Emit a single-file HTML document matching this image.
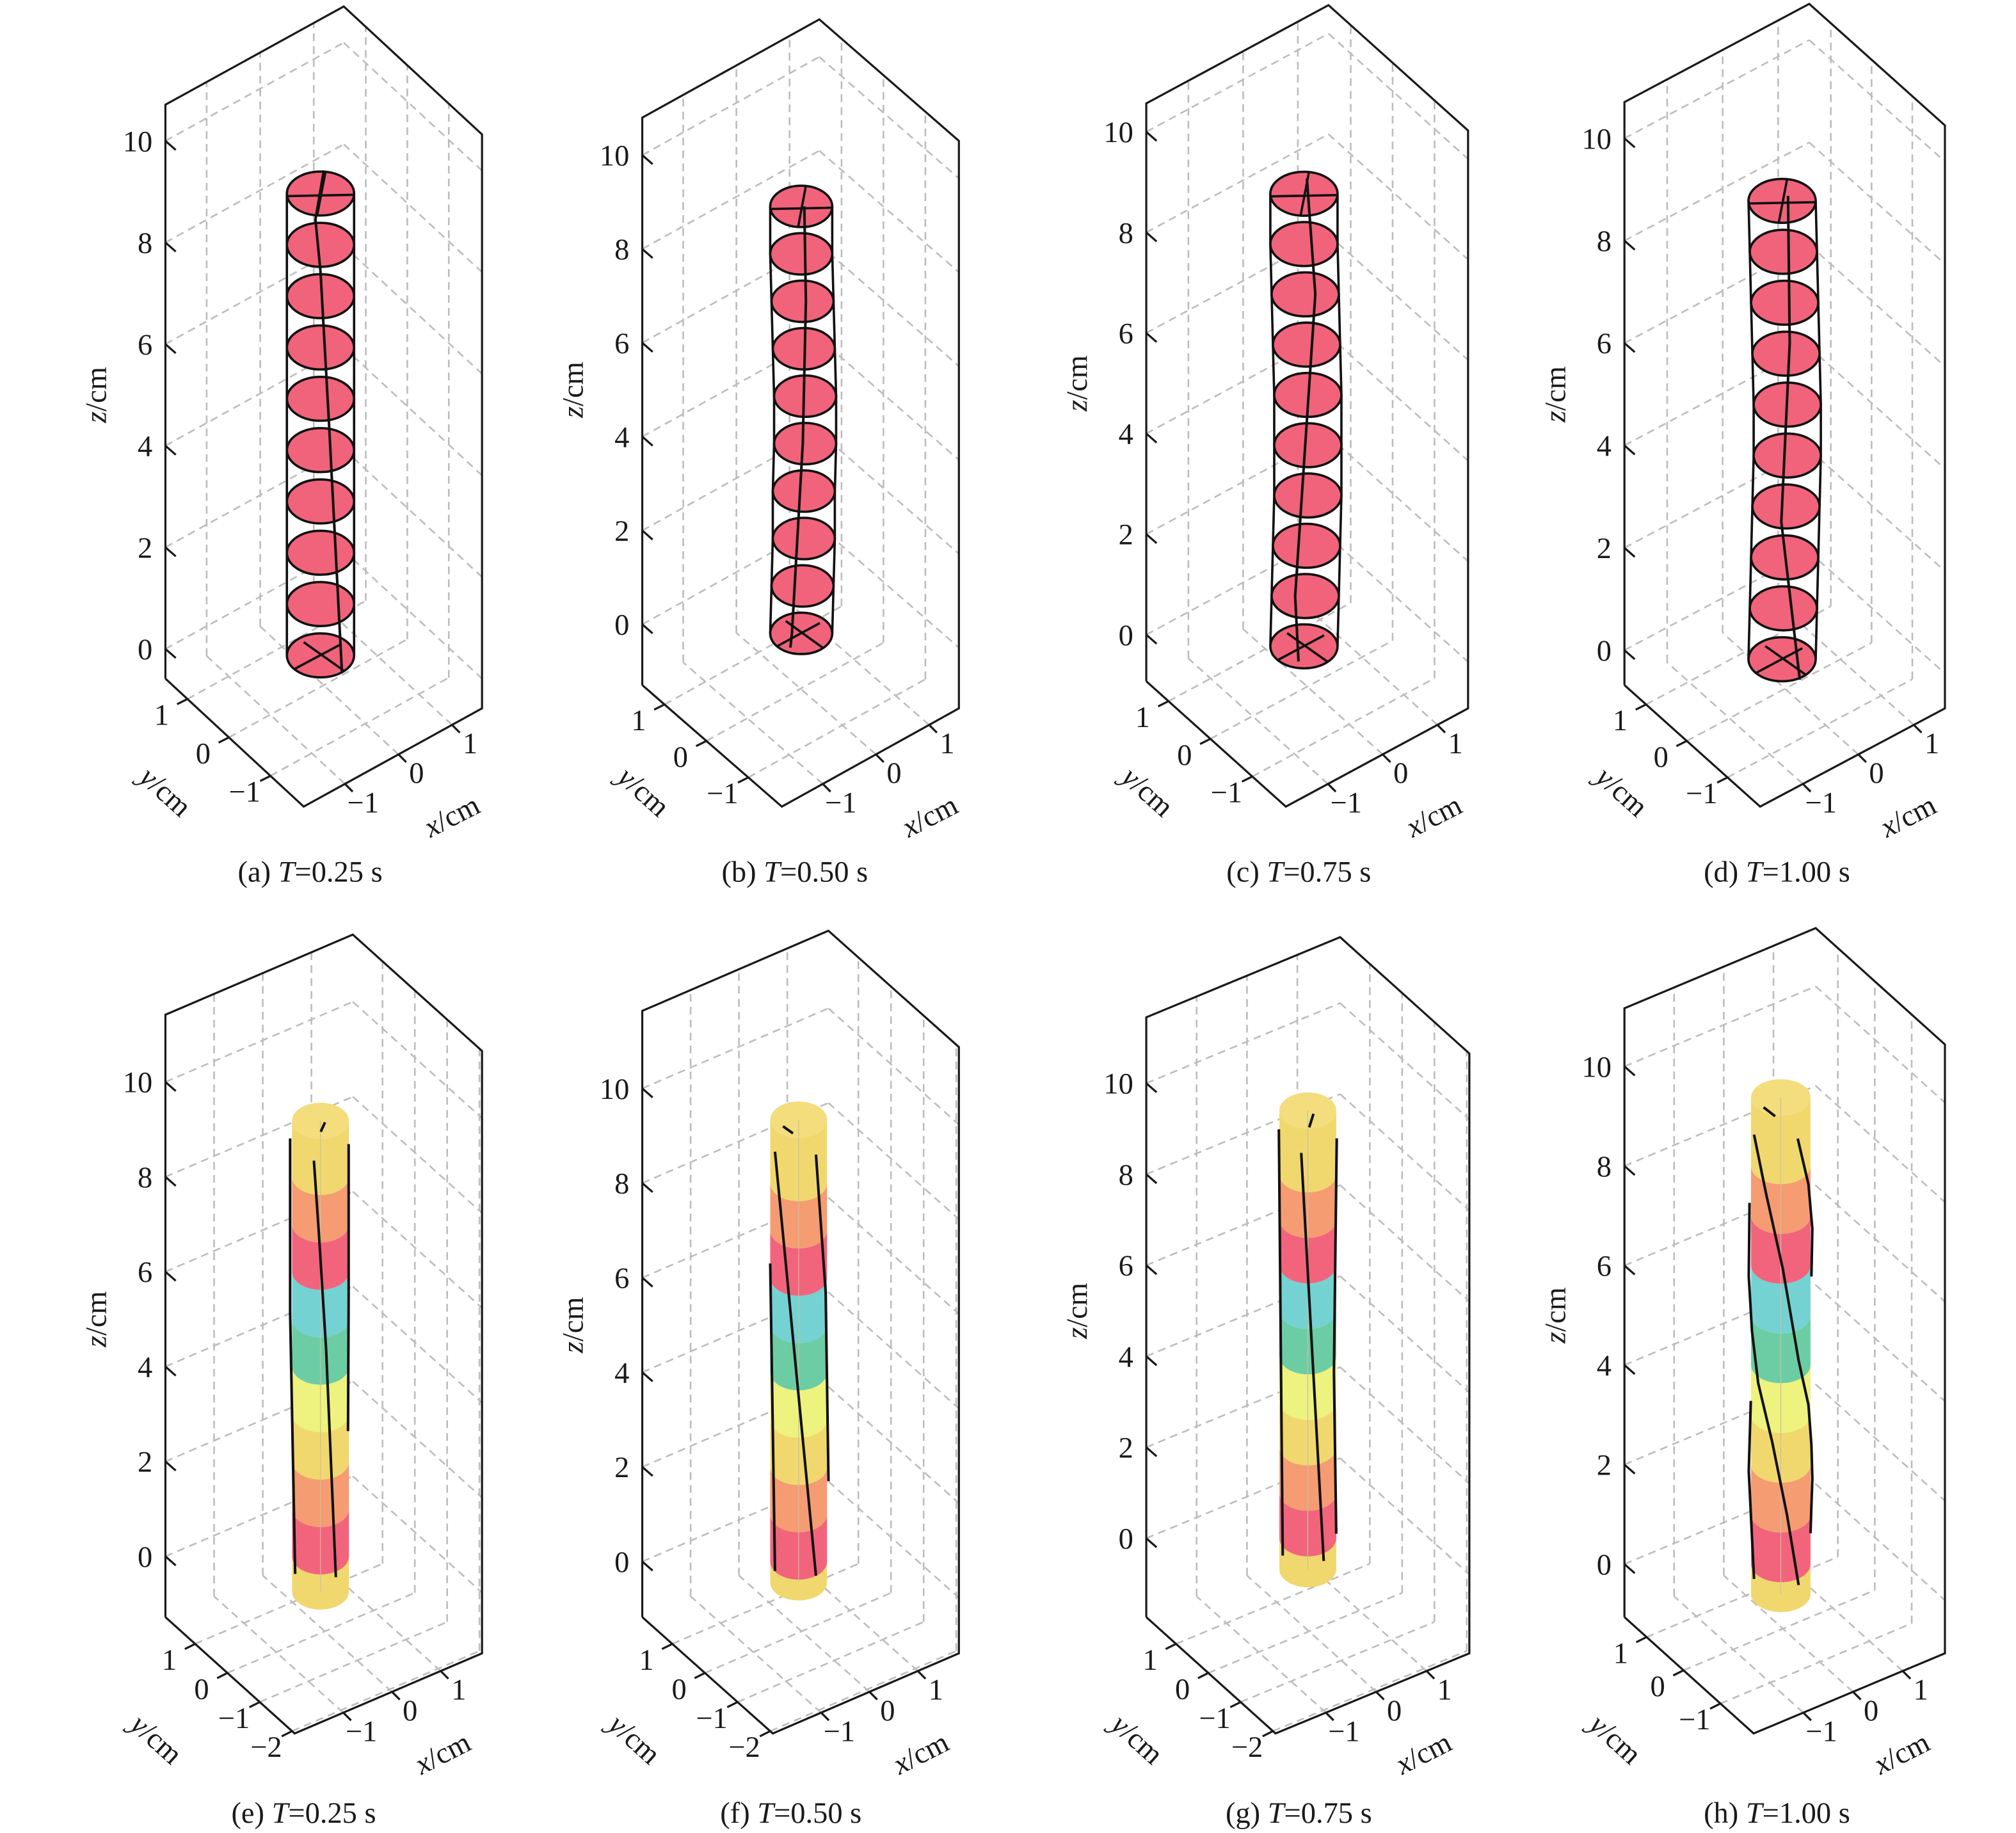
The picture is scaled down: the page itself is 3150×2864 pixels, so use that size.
<!DOCTYPE html>
<html><head><meta charset="utf-8"><style>
html,body{margin:0;padding:0;background:#fff;}
svg{display:block;}
text{font-family:"Liberation Serif","DejaVu Serif",serif;fill:#1a1a1a;}
</style></head><body>
<svg id="fig" xmlns="http://www.w3.org/2000/svg" width="3150" height="2864" viewBox="0 0 1560 1418" preserveAspectRatio="none"></svg>
<script>
// ---- data ----
const zTicks = [0, 2, 4, 6, 8, 10];
const xTicksTop = [-1, 0, 1];
const yTicksTop = [-1, 0, 1];
const xTicksBot = [-1, 0, 1];
const yTicksBot = [-2, -1, 0, 1];
const yTicksH = [-1, 0, 1];
const captionsTop = ["(a) ", "(b) ", "(c) ", "(d) "];
const captionsBot = ["(e) ", "(f) ", "(g) ", "(h) "];
const timeLabels = ["0.25", "0.50", "0.75", "1.00"];
const diskZ = [0, 1, 2, 3, 4, 5, 6, 7, 8, 9];
const diskShiftA = [0, 0, 0, 0, 0, 0, 0, 0, 0, 0];
const diskShiftB = [0, 1, 2, 2, 3, 3, 2, 1, 0, 0];
const diskShiftC = [-1, 0, 1, 2, 2, 2, 1, 0, -1, -1];
const diskShiftD = [-2, -1, 0, 1, 2, 2, 1, 0, -1, -2];
const centerA = [[9.45, 0.1], [8.49, -0.15], [7.48, 0], [4.56, 0.25], [-0.33, 0.64]];
const centerB = [[9.0, 0.1], [7.0, 0.15], [4.0, 0.05], [0.0, -0.3], [-0.3, -0.35]];
const centerC = [[9.3, 0.05], [7.0, 0.3], [4.0, 0.0], [1.0, -0.3], [-0.3, -0.2]];
const centerD = [[9.1, 0.1], [6.2, 0.15], [2.7, -0.1], [-0.4, 0.45]];
const bandEdges = [0, 1, 2, 3, 4, 5, 6, 7, 8];
const bandColors = ["#f1d86e", "#f2647c", "#f59c72", "#f1d86e", "#eef27e", "#6ccda4", "#74d2d2", "#f2647c", "#f59c72", "#f1d86e"];
const linesE = [[[8.81, -1.07], [5.13, -1.07], [-0.37, -0.89]], [[8.34, -0.23], [6.83, -0.06], [4.34, 0.2], [-0.44, 0.54]], [[8.69, 0.99], [5.51, 0.99], [2.64, 0.97]], [[9.15, 0.16], [8.95, 0.01]]];
const linesF = [[[8.66, -0.83], [-0.3, 0.61]], [[8.6, 0.61], [5.7, 0.95], [1.7, 1.05]], [[6.3, -1.0], [-0.2, -0.83]], [[9.2, -0.55], [9.05, -0.2]]];
const linesG = [[[8.99, -1.02], [4.15, -0.95], [-0.38, -0.88]], [[8.47, -0.23], [-0.5, 0.56]], [[8.79, 1.02], [3.66, 0.92], [0.1, 1.0]], [[9.33, 0.2], [9.03, 0.05]]];
const linesH = [
 [[8.63, -0.9], [7.48, -0.51], [5.93, 0.07], [4.09, 0.6], [3.2, 0.93], [2.39, 1.03], [1.72, 1.06], [0.62, 1.0]],
 [[8.55, 0.57], [7.63, 0.93], [6.74, 1.06], [5.78, 1.03]],
 [[7.26, -1.05], [5.78, -1.08], [4.68, -0.97], [3.64, -0.76], [2.46, -0.29], [0.99, 0.21], [-0.42, 0.6]],
 [[3.28, -1.01], [1.87, -1.08], [-0.3, -0.9]],
 [[9.18, -0.58], [9.0, -0.19]]
];

// ---- layout ----
const panelsTop = [
 {L:[128,525],F:[235,624],R:[373,548],H:444,z0y:502,zk:39.3,x:[-1.77,1.56],y:[-1.8,1.53],cx:248,cz0:507,czk:39.7,rx:26,ry:17,shift:diskShiftA,center:centerA,cap:240},
 {L:[497,530],F:[605,624],R:[742,548],H:439,z0y:483,zk:36.3,x:[-1.77,1.56],y:[-1.8,1.53],cx:620,cz0:490,czk:36.7,rx:24,ry:16,shift:diskShiftB,center:centerB,cap:615},
 {L:[887,527],F:[995,624],R:[1136,548],H:447,z0y:491,zk:38.9,x:[-1.77,1.56],y:[-1.8,1.53],cx:1010,cz0:500,czk:38.9,rx:26,ry:17,shift:diskShiftC,center:centerC,cap:1005},
 {L:[1257,530],F:[1362,624],R:[1505,548],H:451,z0y:503,zk:39.6,x:[-1.77,1.56],y:[-1.8,1.53],cx:1381,cz0:510,czk:39.4,rx:26,ry:17,shift:diskShiftD,center:centerD,cap:1375}
];
const panelsBot = [
 {L:[128,1251],F:[228,1341],R:[373,1279],H:466,z0y:1204,zk:36.7,x:[-2.0,1.85],y:[-2.08,1.92],yt:yTicksBot,cx:248,rx:22,zTop:9.18,zBot:-0.74,lines:linesE,cap:235},
 {L:[497,1251],F:[598,1341],R:[742,1279],H:469,z0y:1208,zk:36.6,x:[-2.0,1.85],y:[-2.08,1.92],yt:yTicksBot,cx:618,rx:22,zTop:9.34,zBot:-0.44,lines:linesF,cap:612},
 {L:[887,1251],F:[987,1341],R:[1137,1279],H:464,z0y:1190,zk:35.2,x:[-2.0,1.85],y:[-2.08,1.92],yt:yTicksBot,cx:1012,rx:22,zTop:9.4,zBot:-0.68,lines:linesG,cap:1005},
 {L:[1257,1251],F:[1357,1341],R:[1505,1279],H:471,z0y:1210,zk:38.5,x:[-2.0,1.85],y:[-1.9,1.6],yt:yTicksH,cx:1378,rx:23,zTop:9.38,zBot:-0.6,lines:linesH,cap:1375}
];

const NS = "http://www.w3.org/2000/svg";
const svg = document.getElementById("fig");
function mk(tag, attrs, parent) {
  const e = document.createElementNS(NS, tag);
  for (const k in attrs) e.setAttribute(k, attrs[k]);
  (parent || svg).appendChild(e);
  return e;
}
function P(p, u, v, z) {
  const zmin = (p.z0y - p.L[1]) / p.zk;
  return [p.F[0] + u * (p.R[0] - p.F[0]) + v * (p.L[0] - p.F[0]),
          p.F[1] + u * (p.R[1] - p.F[1]) + v * (p.L[1] - p.F[1]) - (z - zmin) * p.zk];
}
function pts(a) { return a.map(q => q[0].toFixed(1) + "," + q[1].toFixed(1)).join(" "); }

function drawAxes(p, g, xt, yt, idx, bottom) {
  const zmin = (p.z0y - p.L[1]) / p.zk, zmax = zmin + p.H / p.zk;
  const ux = v => (v - p.x[0]) / (p.x[1] - p.x[0]);
  const vy = v => (v - p.y[0]) / (p.y[1] - p.y[0]);
  const grid = mk("g", {stroke: "#bdbdbd", "stroke-width": 1.3, "stroke-dasharray": "6,4", fill: "none"}, g);
  
  
  xt.forEach(t => { const u = ux(t);
    mk("line", {x1: P(p,u,1,zmin)[0], y1: P(p,u,1,zmin)[1], x2: P(p,u,1,zmax)[0], y2: P(p,u,1,zmax)[1]}, grid);
    mk("line", {x1: P(p,u,0,zmin)[0], y1: P(p,u,0,zmin)[1], x2: P(p,u,1,zmin)[0], y2: P(p,u,1,zmin)[1]}, grid); });
  yt.forEach(t => { const v = vy(t);
    mk("line", {x1: P(p,1,v,zmin)[0], y1: P(p,1,v,zmin)[1], x2: P(p,1,v,zmax)[0], y2: P(p,1,v,zmax)[1]}, grid);
    mk("line", {x1: P(p,0,v,zmin)[0], y1: P(p,0,v,zmin)[1], x2: P(p,1,v,zmin)[0], y2: P(p,1,v,zmin)[1]}, grid); });
  zTicks.forEach(t => {
    mk("line", {x1: P(p,0,1,t)[0], y1: P(p,0,1,t)[1], x2: P(p,1,1,t)[0], y2: P(p,1,1,t)[1]}, grid);
    mk("line", {x1: P(p,1,1,t)[0], y1: P(p,1,1,t)[1], x2: P(p,1,0,t)[0], y2: P(p,1,0,t)[1]}, grid); });
  const B = [p.L[0] + p.R[0] - p.F[0], p.L[1] + p.R[1] - p.F[1]];
  const box = mk("g", {stroke: "#1a1a1a", "stroke-width": 1.6, fill: "none"}, g);
  
  
  mk("polyline", {points: pts([[p.L[0], p.L[1]], [p.L[0], p.L[1] - p.H], [B[0], B[1] - p.H], [p.R[0], p.R[1] - p.H], p.R, p.F, p.L])}, box);
  zTicks.forEach(t => {
    const y = p.z0y - t * p.zk;
    mk("line", {x1: p.L[0], y1: y, x2: p.L[0] + 8, y2: y + 7}, box);
    const tx = mk("text", {x: p.L[0] - 10, y: y + 8, "font-size": 23, "text-anchor": "end"}, g);
    tx.textContent = t;
    
    
  });
  xt.forEach(t => {
    const q = P(p, ux(t), 0, zmin);
    mk("line", {x1: q[0], y1: q[1], x2: q[0] + 6, y2: q[1] + 6}, box);
    const tx = mk("text", {x: q[0] + 14, y: q[1] + 22, "font-size": 23, "text-anchor": "middle"}, g);
    tx.textContent = t < 0 ? "\u2212" + (-t) : t;
    
    
  });
  yt.forEach(t => {
    const q = P(p, 0, vy(t), zmin);
    mk("line", {x1: q[0], y1: q[1], x2: q[0] - 8, y2: q[1] + 4}, box);
    const tx = mk("text", {x: q[0] - 20, y: q[1] + 20, "font-size": 23, "text-anchor": "middle"}, g);
    tx.textContent = t < 0 ? "\u2212" + (-t) : t;
    
    
  });
  const zc = p.z0y - 5 * p.zk;
  const zl = mk("text", {x: 0, y: 0, "font-size": 23, "text-anchor": "middle", transform: `translate(${p.L[0] - 46},${zc}) rotate(-90)`}, g);
  zl.innerHTML = '<tspan font-style="italic">z</tspan>/cm';
  
  
  const yl = mk("text", {x: 0, y: 0, "font-size": 23, "text-anchor": "middle", transform: `translate(${p.F[0] - 112},${p.F[1] + (bottom ? 10 : -6)}) rotate(42)`}, g);
  yl.innerHTML = '<tspan font-style="italic">y</tspan>/cm';
  
  
  const xl = mk("text", {x: 0, y: 0, "font-size": 23, "text-anchor": "middle", transform: `translate(${p.F[0] + 118},${p.F[1] + (bottom ? 22 : 14)}) rotate(-27)`}, g);
  xl.innerHTML = '<tspan font-style="italic">x</tspan>/cm';
  
  
  const cap = mk("text", {x: p.cap, y: bottom ? 1410 : 682, "font-size": 23, "text-anchor": "middle"}, g);
  cap.innerHTML = (bottom ? captionsBot[idx] : captionsTop[idx]) + '<tspan font-style="italic">T</tspan>=' + timeLabels[idx] + ' s';
  
  
}

panelsTop.forEach((p, i) => {
  const g = mk("g", {});
  
  
  drawAxes(p, g, xTicksTop, yTicksTop, i, false);
  const cy = z => p.cz0 - z * p.czk;
  const sides = mk("g", {stroke: "#111", "stroke-width": 1.8, fill: "none"}, g);
  
  
  mk("polyline", {points: pts(diskZ.map((z, k) => [p.cx + p.shift[k] - p.rx, cy(z)]))}, sides);
  mk("polyline", {points: pts(diskZ.map((z, k) => [p.cx + p.shift[k] + p.rx, cy(z)]))}, sides);
  diskZ.forEach((z, k) => {
    const e = mk("ellipse", {cx: p.cx + p.shift[k], cy: cy(z), rx: p.rx, ry: p.ry, fill: "#f1637a", stroke: "#111", "stroke-width": 1.8}, g);
    
    
  });
  const tc = [p.cx + p.shift[diskZ.length - 1], cy(diskZ[diskZ.length - 1])];
  const bc = [p.cx + p.shift[0], cy(diskZ[0])];
  const cr = mk("g", {stroke: "#111", "stroke-width": 1.8, fill: "none"}, g);
  
  
  mk("line", {x1: tc[0] - p.rx, y1: tc[1] + 2, x2: tc[0] + p.rx, y2: tc[1] + 1}, cr);
  mk("line", {x1: tc[0] + 0.15 * p.rx, y1: tc[1] - p.ry, x2: tc[0] - 0.1 * p.rx, y2: tc[1] + p.ry}, cr);
  mk("line", {x1: bc[0] - 0.75 * p.rx, y1: bc[1] + 0.6 * p.ry, x2: bc[0] + 0.6 * p.rx, y2: bc[1] - 0.5 * p.ry}, cr);
  mk("line", {x1: bc[0] - 0.5 * p.rx, y1: bc[1] - 0.6 * p.ry, x2: bc[0] + 0.7 * p.rx, y2: bc[1] + 0.7 * p.ry}, cr);
  const cl = mk("polyline", {points: pts(p.center.map(q => [p.cx + q[1] * p.rx, cy(q[0])])), stroke: "#111", "stroke-width": 2, fill: "none"}, g);
  
  
});

panelsBot.forEach((p, i) => {
  const g = mk("g", {});
  
  
  drawAxes(p, g, xTicksBot, p.yt, i, true);
  const cy = z => p.z0y - z * p.zk;
  const ry = 14;
  const edges = [p.zBot].concat(bandEdges).concat([p.zTop]);
  for (let k = 0; k < edges.length - 1; k++) {
    const yb = cy(edges[k]), yt = cy(edges[k + 1]);
    const x0 = p.cx - p.rx, x1 = p.cx + p.rx;
    const d = `M${x0},${yt} A${p.rx},${ry} 0 0 0 ${x1},${yt} L${x1},${yb} A${p.rx},${ry} 0 0 1 ${x0},${yb} Z`;
    const b = mk("path", {d: d, fill: bandColors[k]}, g);
    
    
  }
  const capE = mk("ellipse", {cx: p.cx, cy: cy(p.zTop), rx: p.rx, ry: ry, fill: "#f3dd7c"}, g);
  
  
  mk("line", {x1: p.cx, y1: cy(p.zTop), x2: p.cx, y2: cy(p.zBot), stroke: "#c8c0a0", "stroke-width": 0.6}, g);
  p.lines.forEach(line => {
    const l = mk("polyline", {points: pts(line.map(q => [p.cx + q[1] * p.rx, cy(q[0])])), stroke: "#111", "stroke-width": 2, fill: "none", "stroke-linejoin": "round"}, g);
    
    
  });
});
</script>
</body></html>
